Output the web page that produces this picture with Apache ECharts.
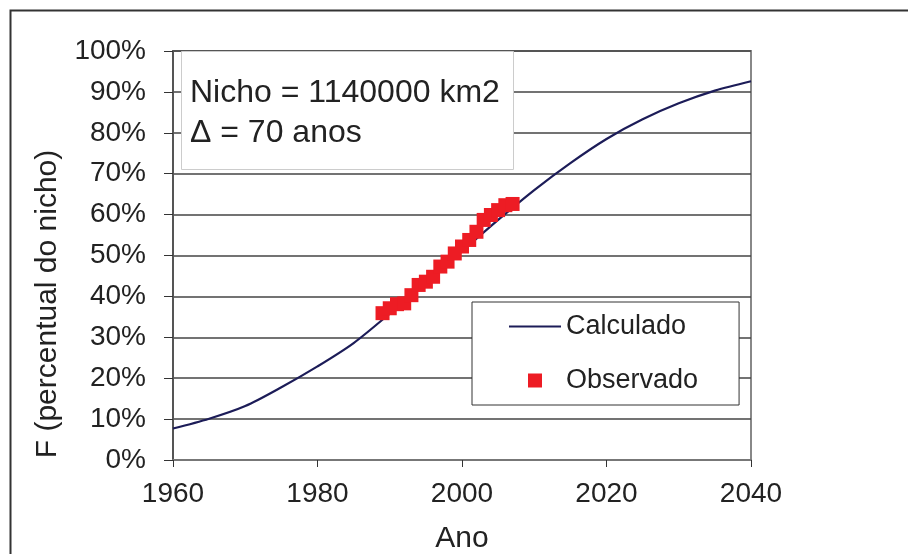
<!DOCTYPE html>
<html>
<head>
<meta charset="utf-8">
<script src="https://cdn.jsdelivr.net/npm/echarts@6/dist/echarts.min.js"></script>
<style>
html,body{margin:0;padding:0;background:#fff;}
#chart{width:908px;height:554px;}
</style>
</head>
<body>
<div id="chart"></div>
<script>
// ---- data ----
const curveYears  = [1960,1965,1970,1975,1980,1985,1990,1995,2000,2005,2010,2015,2020,2025,2030,2035,2040];
const curveValues = [7.7,10.1,13.2,17.8,22.9,28.6,35.8,43.3,51.0,58.7,66.0,72.6,78.5,83.3,87.2,90.3,92.6];
const obsYears  = [1989,1990,1991,1992,1993,1994,1995,1996,1997,1998,1999,2000,2001,2002,2003,2004,2005,2006,2007];
const obsValues = [35.9,37.1,38.1,38.3,40.3,42.8,43.6,44.8,47.3,48.5,50.5,52.2,53.8,55.8,58.7,59.9,61.1,62.3,62.6];
const xTicks = [1960,1980,2000,2020,2040];
const yTicks = [0,10,20,30,40,50,60,70,80,90,100];
const seriesNames = ['Calculado','Observado'];
const xTitle = 'Ano';
const yTitle = 'F (percentual do nicho)';
const noteLines = ['Nicho = 1140000 km2', '\u0394 = 70 anos'];

const FONT = '"Liberation Sans", Arial, sans-serif';
const chart = echarts.init(document.getElementById('chart'));

chart.setOption({
  backgroundColor: '#fff',
  animation: false,
  grid: {
    left: 173, top: 51, right: 157, bottom: 94,
    containLabel: false, outerBoundsMode: 'none',
    show: true, borderColor: '#888', borderWidth: 2, backgroundColor: '#fff'
  },
  xAxis: {
    type: 'value',
    min: xTicks[0], max: xTicks[xTicks.length-1], interval: 20,
    name: xTitle, nameLocation: 'middle', nameGap: 64,
    nameTextStyle: {fontFamily: FONT, fontSize: 30, color: '#222'},
    axisLine: {show: true, lineStyle: {color: '#777', width: 2}},
    axisTick: {show: true, length: 7, lineStyle: {color: '#333', width: 1}},
    splitLine: {show: false},
    axisLabel: {fontFamily: FONT, fontSize: 28, color: '#222', margin: 20,
      formatter: v => String(v)}
  },
  yAxis: {
    type: 'value',
    min: yTicks[0], max: yTicks[yTicks.length-1], interval: 10,
    axisLine: {show: true, lineStyle: {color: '#555', width: 2}},
    axisTick: {show: true, length: 9, lineStyle: {color: '#333', width: 1}},
    splitLine: {show: true, lineStyle: {color: '#444', width: 1.5}},
    axisLabel: {fontFamily: FONT, fontSize: 28, color: '#222', margin: 27, formatter: '{value}%'}
  },
  legend: {
    left: 472, top: 302,
    orient: 'vertical',
    symbolKeepAspect: true,
    data: [
      {name: seriesNames[0], icon: 'path://M0,0 L52,0 L52,2 L0,2 Z'},
      {name: seriesNames[1], icon: 'path://M0,0 L14,0 L14,14 L0,14 Z', itemStyle: {opacity: 1}}
    ],
    itemWidth: 52, itemHeight: 14, itemGap: 27,
    padding: [11, 41, 11, 37],
    borderColor: '#333', borderWidth: 1, backgroundColor: '#fff',
    textStyle: {fontFamily: FONT, fontSize: 27, color: '#222'}
  },
  series: [
    {
      name: seriesNames[0], type: 'line',
      data: curveYears.map((y,i)=>[y, curveValues[i]]),
      smooth: 0.3, symbol: 'none',
      lineStyle: {color: '#1c1c58', width: 2.2},
      itemStyle: {color: '#1c1c58'},
      z: 2
    },
    {
      name: seriesNames[1], type: 'scatter',
      data: obsYears.map((y,i)=>[y, obsValues[i]]),
      symbol: 'rect', symbolSize: 14,
      itemStyle: {color: '#ed1c24', opacity: 1},
      z: 3
    }
  ],
  graphic: [
    {type: 'rect', left: 8, top: 8, shape: {width: 960, height: 600},
     style: {fill: 'none', stroke: '#333', lineWidth: 2}, silent: true, z: 0},
    {type: 'rect', left: 181, top: 51, shape: {width: 332, height: 118},
     style: {fill: '#fff', stroke: '#ccc', lineWidth: 1}, z: 10},
    {type: 'text', left: 190, top: 77, z: 11,
     style: {text: noteLines[0], font: '32px ' + FONT, fill: '#222'}},
    {type: 'text', left: 190, top: 117, z: 11,
     style: {text: noteLines[1], font: '32px ' + FONT, fill: '#222'}},
    {type: 'text', x: 48, y: 304, rotation: Math.PI/2, z: 11,
     style: {text: yTitle, font: '30px ' + FONT, fill: '#222', align: 'center', verticalAlign: 'middle'}}
  ]
});
</script>
</body>
</html>
